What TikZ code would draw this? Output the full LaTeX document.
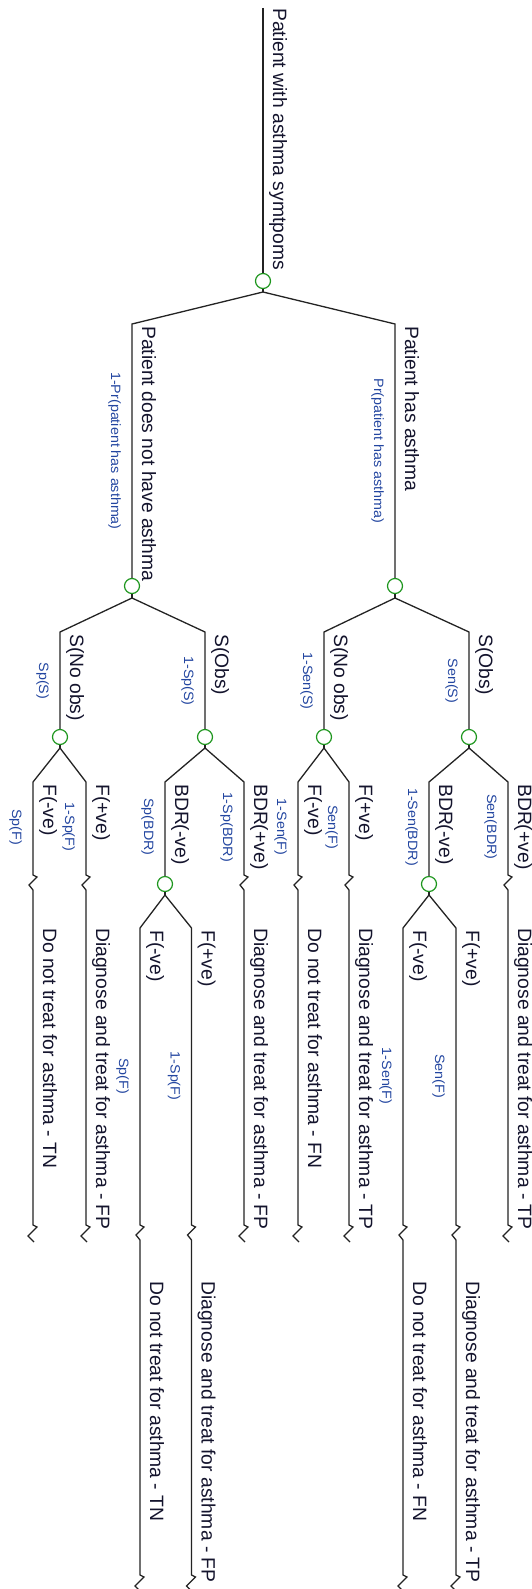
\documentclass[tikz,border=0pt]{standalone}
\usepackage{fontspec}
\setmainfont{Liberation Sans}
\newfontfamily\probfont{Liberation Sans}[FakeStretch=1.06]
\definecolor{linecol}{RGB}{35,35,35}
\definecolor{txtcol}{RGB}{20,20,45}
\definecolor{probcol}{RGB}{35,70,160}
\definecolor{chancecol}{RGB}{30,150,30}
\begin{document}
\begin{tikzpicture}[x=1bp,y=-1bp,
 ln/.style={draw=linecol,line width=1.3bp,line join=miter},
 chance/.style={circle,draw=chancecol,line width=1.2bp,minimum size=15bp,inner sep=0pt},
 lab/.style={rotate=-90,anchor=base west,inner sep=0pt,text=txtcol,font=\fontsize{19.3bp}{22bp}\selectfont},
 prob/.style={rotate=-90,anchor=base,inner sep=0pt,text=probcol,font=\probfont\fontsize{13.5bp}{15bp}\selectfont}]
\useasboundingbox (0,0) rectangle (532,1589);

% ---------- root ----------
\coordinate (r0) at (263,8);
\node[chance] (c0) at (263,281) {};
\coordinate (b0) at (263,292);
\draw[ln] (r0) -- (c0.north);
\draw[ln] (c0.south) -- (b0);
\node[lab] (l0) at (273,8) {Patient with asthma symtpoms};

% ---------- level 2 ----------
\coordinate (kA) at (395,324);
\coordinate (kB) at (132,324);
\node[chance] (cA) at (395,586) {};
\node[chance] (cB) at (132,586) {};
\draw[ln] (b0) -- (kA) -- (cA.north);
\draw[ln] (b0) -- (kB) -- (cB.north);
\node[lab] (lA) at (405,326) {Patient has asthma};
\node[prob] (pA) at (374,451) {Pr(patient has asthma)};
\node[lab] (lB) at (142,326) {Patient does not have asthma};
\node[prob] (pB) at (111,451) {1-Pr(patient has asthma)};
\coordinate (bA) at (395,598);
\coordinate (bB) at (132,598);
\draw[ln] (cA.south) -- (bA);
\draw[ln] (cB.south) -- (bB);

% ---------- level 3 ----------
\foreach \x/\pa/\nm/\m/\p in {469/A/A1/S(Obs)/Sen(S), 324/A/A2/S(No obs)/1-Sen(S),
                              205/B/B1/S(Obs)/1-Sp(S), 60/B/B2/S(No obs)/Sp(S)}{
  \coordinate (k\nm) at (\x,632);
  \node[chance] (c\nm) at (\x,737) {};
  \coordinate (b\nm) at (\x,748);
  \draw[ln] (b\pa) -- (k\nm) -- (c\nm.north);
  \draw[ln] (c\nm.south) -- (b\nm);
  \node[lab] (l\nm) at (\x+10,634) {\m};
  \node[prob] (p\nm) at (\x-21,681) {\p};
}

% ---------- level 4 chance nodes (BDR -ve) ----------
\foreach \x/\pa/\nm/\p in {429/A1/A1n/1-Sen(BDR), 165/B1/B1n/Sp(BDR)}{
  \coordinate (k\nm) at (\x,782);
  \node[chance] (c\nm) at (\x,884) {};
  \coordinate (b\nm) at (\x,895);
  \draw[ln] (b\pa) -- (k\nm) -- (c\nm.north);
  \draw[ln] (c\nm.south) -- (b\nm);
  \node[lab] (l\nm) at (\x+10,784) {BDR(-ve)};
  \node[prob] (p\nm) at (\x-21,827) {\p};
}

% ---------- level 4 terminals ----------
\foreach \x/\pa/\nm/\m/\p/\tx in {
  508/A1/t1/BDR(+ve)/Sen(BDR)/Diagnose and treat for asthma - TP,
  349/A2/t2/F(+ve)/Sen(F)/Diagnose and treat for asthma - TP,
  298/A2/t3/F(-ve)/1-Sen(F)/Do not treat for asthma - FN,
  244/B1/t4/BDR(+ve)/1-Sp(BDR)/Diagnose and treat for asthma - FP,
  86/B2/t5/F(+ve)/1-Sp(F)/Diagnose and treat for asthma - FP,
  33/B2/t6/F(-ve)/Sp(F)/Do not treat for asthma - TN}{
  \coordinate (k\nm) at (\x,782);
  \coordinate (br\nm) at (\x,875);
  \coordinate (bb\nm) at (\x,890);
  \coordinate (e\nm) at (\x,1225);
  \draw[ln] (b\pa) -- (k\nm) -- (br\nm) -- ++(4,2) -- ++(-8,8) -- (bb\nm) -- (e\nm)
        -- ++(4,2) -- ++(-9,9) -- ++(6,6);
  \node[lab] (l\nm) at (\x+10,784) {\m};
  \node[prob] (p\nm) at (\x-21,827) {\p};
  \node[lab] (o\nm) at (\x+10,928) {\tx};
}

% ---------- level 5 terminals ----------
\foreach \x/\pa/\nm/\m/\p/\tx in {
  456/A1n/u1/F(+ve)/Sen(F)/Diagnose and treat for asthma - TP,
  403/A1n/u2/F(-ve)/1-Sen(F)/Do not treat for asthma - FN,
  191.5/B1n/u3/F(+ve)/1-Sp(F)/Diagnose and treat for asthma - FP,
  140/B1n/u4/F(-ve)/Sp(F)/Do not treat for asthma - TN}{
  \coordinate (k\nm) at (\x,928);
  \coordinate (br\nm) at (\x,1225);
  \coordinate (bb\nm) at (\x,1240);
  \coordinate (e\nm) at (\x,1575);
  \draw[ln] (b\pa) -- (k\nm) -- (br\nm) -- ++(4,2) -- ++(-8,8) -- (bb\nm) -- (e\nm)
        -- ++(4,2) -- ++(-9,9) -- ++(6,6);
  \node[lab] (l\nm) at (\x+10,930) {\m};
  \node[prob] (p\nm) at (\x-21,1076) {\p};
  \node[lab] (o\nm) at (\x+10,1281) {\tx};
}
\end{tikzpicture}
\end{document}
